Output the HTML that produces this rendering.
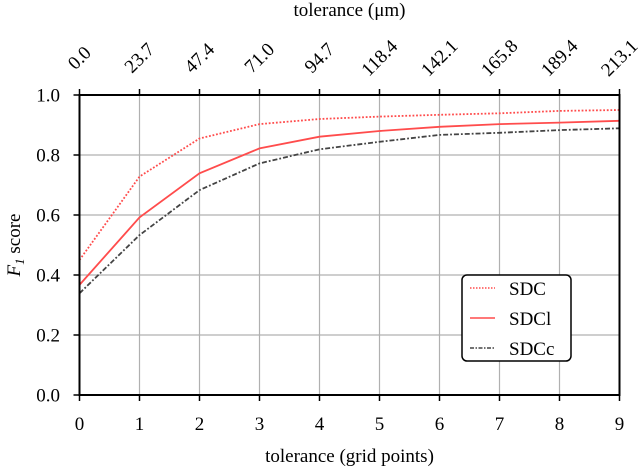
<!DOCTYPE html>
<html><head><meta charset="utf-8"><style>body{margin:0;background:#fff}svg{display:block;font-family:"Liberation Serif",serif}</style></head>
<body>
<svg id="chart" width="640" height="467" viewBox="0 0 640 467">
<g id="grid"></g>
<g id="series"></g>
<rect x="79.5" y="95" width="540" height="300" fill="none" stroke="#000" stroke-width="2"/>
<g id="axes"></g>
<text x="349.5" y="462" text-anchor="middle" font-size="19">tolerance (grid points)</text>
<text x="349.5" y="16" text-anchor="middle" font-size="19">tolerance (μm)</text>
<text transform="translate(20,245) rotate(-90)" text-anchor="middle" font-size="19"><tspan font-style="italic">F</tspan><tspan font-size="13" dy="4" font-style="italic">1</tspan><tspan dy="-4"> score</tspan></text>
<g>
<rect x="462" y="275" width="109" height="86" rx="5" fill="#fff" stroke="#000" stroke-width="1.5"/>
<line x1="470" y1="288" x2="495" y2="288" stroke="#ff4c4c" stroke-width="1.5" stroke-dasharray="1.5,1.5"/>
<text x="509" y="295" font-size="19">SDC</text>
<line x1="470" y1="318" x2="495" y2="318" stroke="#ff4c4c" stroke-width="1.5"/>
<text x="509" y="325" font-size="19">SDCl</text>
<line x1="470" y1="348" x2="495" y2="348" stroke="#444" stroke-width="1.5" stroke-dasharray="4,1.5,1.5,1.5"/>
<text x="509" y="355" font-size="19">SDCc</text>
</g>
</svg>
<script>
const xCats=[0,1,2,3,4,5,6,7,8,9];
const sdc=[0.45,0.728,0.855,0.903,0.92,0.928,0.934,0.939,0.947,0.95];
const sdcl=[0.367,0.592,0.739,0.822,0.861,0.88,0.894,0.903,0.908,0.914];
const sdcc=[0.339,0.533,0.683,0.772,0.819,0.844,0.867,0.874,0.883,0.889];
const yTicks=[0,0.2,0.4,0.6,0.8,1.0];
const topLabels=["0.0","23.7","47.4","71.0","94.7","118.4","142.1","165.8","189.4","213.1"];
const NS="http://www.w3.org/2000/svg";
const X=v=>79.5+60*v, Y=v=>395-300*v;
function mk(tag,attrs,parent){const e=document.createElementNS(NS,tag);for(const k in attrs)e.setAttribute(k,attrs[k]);parent.appendChild(e);return e;}
const grid=document.getElementById('grid'),axes=document.getElementById('axes'),ser=document.getElementById('series');
xCats.forEach((c,i)=>{
 const g=mk('line',{x1:X(c),x2:X(c),y1:95,y2:395,stroke:'#b0b0b0','stroke-width':1.2},grid);
 
 
 const t=mk('line',{x1:X(c),x2:X(c),y1:395,y2:401,stroke:'#000','stroke-width':1.5},axes);
 
 
 const tt=mk('line',{x1:X(c),x2:X(c),y1:89,y2:95,stroke:'#000','stroke-width':1.5},axes);
 
 
 const l=mk('text',{x:X(c),y:430,'text-anchor':'middle','font-size':19},axes);
 l.textContent=c;
 
 
 const tl=mk('text',{x:0,y:6,'text-anchor':'middle','font-size':19,transform:`translate(${X(c)},58) rotate(-45)`},axes);
 tl.textContent=topLabels[i];
 
 
});
yTicks.forEach(v=>{
 const g=mk('line',{x1:79.5,x2:619.5,y1:Y(v),y2:Y(v),stroke:'#b0b0b0','stroke-width':1.2},grid);
 
 
 const t=mk('line',{x1:73.5,x2:79.5,y1:Y(v),y2:Y(v),stroke:'#000','stroke-width':1.5},axes);
 
 
 const l=mk('text',{x:60,y:Y(v)+6.5,'text-anchor':'end','font-size':19},axes);
 l.textContent=v.toFixed(1);
 
 
});
function line(vals,stroke,dash,name){
 const p=mk('polyline',{points:vals.map((v,i)=>X(xCats[i])+','+Y(v)).join(' '),fill:'none',stroke:stroke,'stroke-width':1.8},ser);
 if(dash)p.setAttribute('stroke-dasharray',dash);
 
 
}
line(sdc,'#ff4c4c','1.8,1.8','line-sdc');
line(sdcl,'#ff4c4c','','line-sdcl');
line(sdcc,'#444','5,2,1.8,2','line-sdcc');
</script>
</body></html>
